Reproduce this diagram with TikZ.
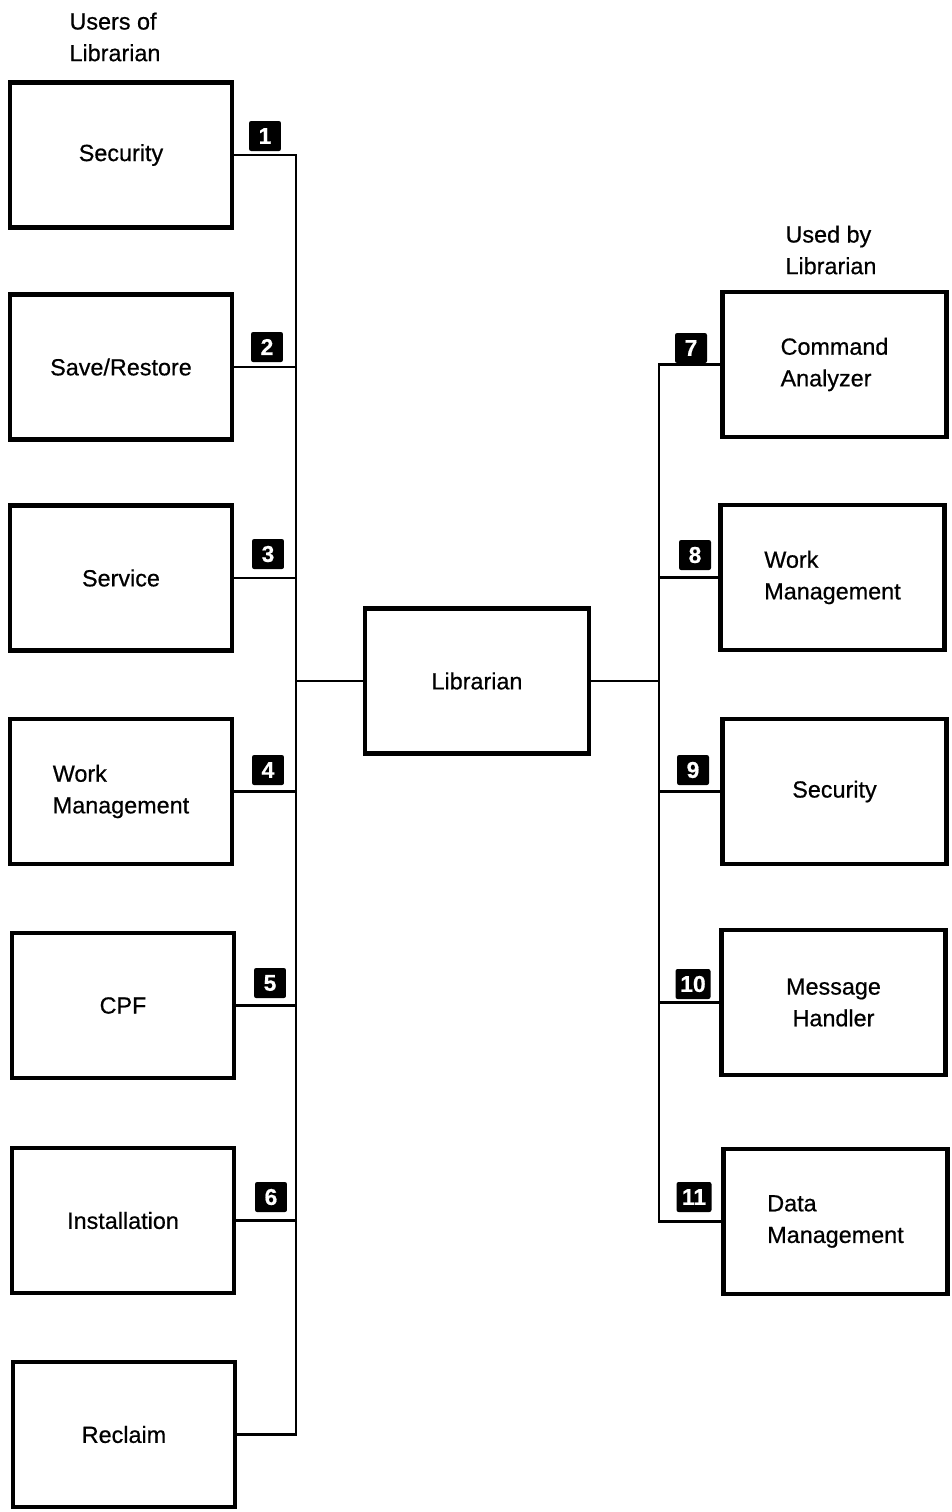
\documentclass[tikz,border=0pt]{standalone}
\usepackage{fontspec}
\setmainfont{Liberation Sans}[FakeBold=0.6]
\newfontfamily\labelfont{Liberation Sans}[FakeBold=0.6]
\begin{document}
\begin{tikzpicture}[x=0.02cm,y=-0.02cm,
  box/.style={draw, line width=2.5pt, minimum width=4.44cm, minimum height=2.9cm,
    inner sep=0pt, align=center, font=\labelfont\fontsize{13.3}{18}\selectfont},
  rbox/.style={box, minimum width=4.48cm},
  wire/.style={line width=1.3pt},
  badge/.style={fill=black, text=white, rounded corners=1.2pt, minimum width=0.64cm,
    minimum height=0.6cm, inner sep=1pt, font=\bfseries\fontsize{13}{13}\selectfont},
  badgewide/.style={badge, minimum width=0.7cm},
  head/.style={align=left, inner sep=0pt, font=\labelfont\fontsize{13.3}{18}\selectfont}]
\useasboundingbox (0,0) rectangle (951,1512);

% column headings
\node[head] (hl) at (115,37) {Users of\\Librarian};
\node[head] (hr) at (831,250) {Used by\\Librarian};

% components that call the librarian
\node[box] (l1) at (121,155) {Security};
\node[box] (l2) at (121,367) {Save/Restore};
\node[box] (l3) at (121,578) {Service};
\node[box, align=left] (l4) at (121,791.5) {Work\\Management};
\node[box] (l5) at (123,1005.5) {CPF};
\node[box] (l6) at (123,1220.5) {Installation};
\node[box] (l7) at (124,1434.5) {Reclaim};

% the librarian itself
\node[box, minimum width=4.48cm] (lib) at (477,681) {Librarian};

% components used by the librarian
\node[rbox, align=left] (r1) at (834.5,364.5) {Command\\Analyzer};
\node[rbox, align=left] (r2) at (832.5,577.5) {Work\\Management};
\node[rbox] (r3) at (834.5,791.5) {Security};
\node[rbox] (r4) at (833.5,1002.5) {Message\\Handler};
\node[rbox, align=left] (r5) at (835.5,1221.5) {Data\\Management};

% bus lines
\coordinate (busL) at (296,0);
\coordinate (busR) at (659,0);

\draw[wire] (l1.east) -- (l1.east -| busL) -- (l7.east -| busL) -- (l7.east);
\foreach \n in {2,...,6}
  \draw[wire] (l\n.east) -- (l\n.east -| busL);
\draw[wire] (lib.west) -- (lib.west -| busL);

\draw[wire] (r1.west) -- (r1.west -| busR) -- (r5.west -| busR) -- (r5.west);
\foreach \n in {2,3,4}
  \draw[wire] (r\n.west) -- (r\n.west -| busR);
\draw[wire] (lib.east) -- (lib.east -| busR);

% numbered interface markers
\node[badge] (b1) at (265,136) {1};
\node[badge] (b2) at (267,347) {2};
\node[badge] (b3) at (268,554) {3};
\node[badge] (b4) at (268,770) {4};
\node[badge] (b5) at (270,983) {5};
\node[badge] (b6) at (271,1197) {6};
\node[badge] (b7) at (691,348) {7};
\node[badge] (b8) at (695,555) {8};
\node[badge] (b9) at (693,770) {9};
\node[badgewide] (b10) at (693,984) {10};
\node[badgewide] (b11) at (694,1197) {11};
\end{tikzpicture}
\end{document}
